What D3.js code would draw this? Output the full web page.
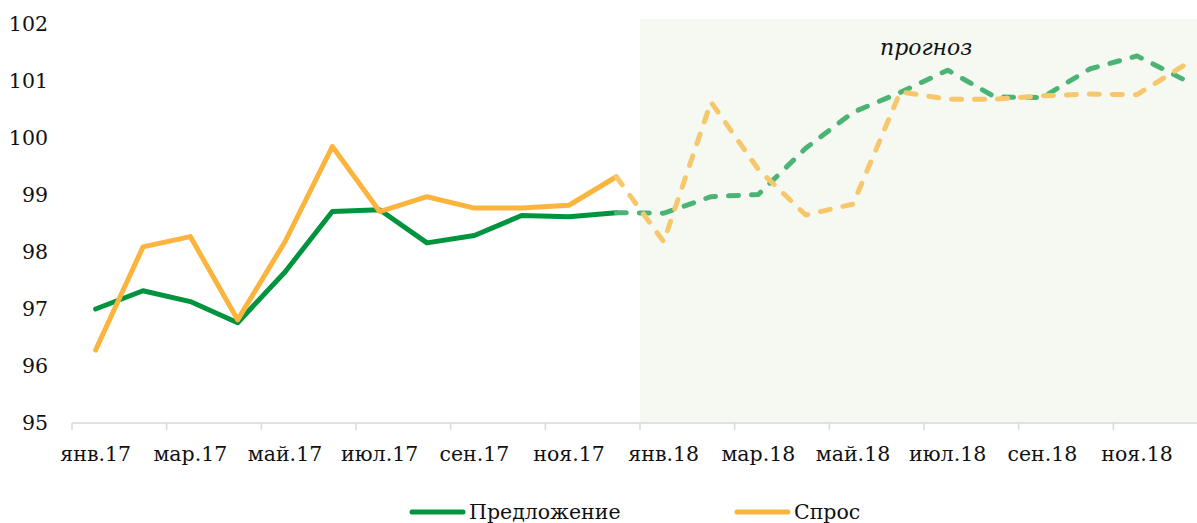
<!DOCTYPE html>
<html><head><meta charset="utf-8">
<script src="https://cdn.jsdelivr.net/npm/d3@7"></script>
<style>body{margin:0;background:#fff}svg{display:block}</style>
</head><body>
<svg id="c" width="1197" height="523"></svg>
<script>
const months = ["янв.17","фев.17","мар.17","апр.17","май.17","июн.17","июл.17","авг.17","сен.17","окт.17","ноя.17","дек.17",
                "янв.18","фев.18","мар.18","апр.18","май.18","июн.18","июл.18","авг.18","сен.18","окт.18","ноя.18","дек.18"];
const yTicks = [95,96,97,98,99,100,101,102];
// actual (Jan 17 – Dec 17)
const supplyActual = [97.00,97.32,97.13,96.76,97.65,98.71,98.74,98.16,98.29,98.64,98.62,98.69];
const demandActual = [96.28,98.09,98.27,96.81,98.18,99.85,98.71,98.97,98.77,98.77,98.82,99.32];
// forecast (Dec 17 – Dec 18)
const supplyForecast = [98.69,98.68,98.97,99.01,99.82,100.45,100.80,101.19,100.72,100.71,101.21,101.44,101.02];
const demandForecast = [99.32,98.18,100.63,99.45,98.65,98.84,100.81,100.68,100.68,100.74,100.77,100.76,101.28];
const seriesNames = ["Предложение","Спрос"];
const forecastLabel = "прогноз";

const svg = d3.select("#c");
const font = "'DejaVu Serif', serif";
const fs = 20.5;
const x = d3.scaleBand().domain(months).range([72, 1208]).padding(0);
const y = d3.scaleLinear().domain([95,102]).range([423,24]);
const cx = i => x(months[i]) + x.bandwidth()/2;

// forecast background
svg.append("rect").attr("x", x(months[12])).attr("y", 19)
  .attr("width", 1208 - x(months[12])).attr("height", y(95) - 19)
  .attr("fill", "#f5f9f1");

// y labels
svg.append("g").selectAll("text").data(yTicks).join("text")
  .attr("x", 48).attr("y", d => y(d)).attr("dy", "0.36em")
  .attr("text-anchor", "end").attr("font-family", font).attr("font-size", fs)
  .attr("fill", "#111").text(d => d);

// x axis
const xAxis = d3.axisBottom(x)
  .tickValues(months.filter((d,i) => i % 2 === 0))
  .tickSize(0).tickPadding(0);
const gx = svg.append("g").attr("transform", `translate(0,${y(95)})`).call(xAxis);
gx.select(".domain").remove();
gx.selectAll("text").attr("font-family", font).attr("font-size", fs).attr("fill", "#111")
  .attr("y", 38).attr("dy", 0);
// axis line and boundary ticks
svg.append("line").attr("x1", 72).attr("x2", 1208).attr("y1", y(95)).attr("y2", y(95))
  .attr("stroke", "#d9d9d9").attr("stroke-width", 1.5);
svg.append("g").selectAll("line").data(months.filter((d,i) => i % 2 === 0)).join("line")
  .attr("x1", d => x(d)).attr("x2", d => x(d))
  .attr("y1", y(95)).attr("y2", y(95) + 7)
  .attr("stroke", "#d9d9d9").attr("stroke-width", 1.5);

const line = d3.line().x(d => cx(d.i)).y(d => y(d.v));
const toPts = (arr, off) => arr.map((v,k) => ({i: k + off, v}));

function draw(arr, off, color, dashed) {
  svg.append("path").datum(toPts(arr, off)).attr("d", line)
    .attr("fill", "none").attr("stroke", color).attr("stroke-width", 5)
    .attr("stroke-linecap", "round").attr("stroke-linejoin", "round")
    .attr("stroke-dasharray", dashed ? "10,13" : null);
}
draw(supplyActual, 0, "#00943f", false);
draw(demandActual, 0, "#fbb53f", false);
draw(supplyForecast, 11, "#4bb475", true);
draw(demandForecast, 11, "#f6c76c", true);

// forecast label
svg.append("text").attr("x", 880).attr("y", 55).attr("font-family", font)
  .attr("font-style", "italic").attr("font-size", 22).attr("fill", "#111").text(forecastLabel);

// legend
const legend = [{name: seriesNames[0], color: "#00943f", x: 410}, {name: seriesNames[1], color: "#fbb53f", x: 735}];
const lg = svg.append("g").selectAll("g").data(legend).join("g");
lg.append("line").attr("x1", d => d.x + 2).attr("x2", d => d.x + 53).attr("y1", 512).attr("y2", 512)
  .attr("stroke", d => d.color).attr("stroke-width", 5).attr("stroke-linecap", "round");
lg.append("text").attr("x", d => d.x + 59).attr("y", 519).attr("font-family", font)
  .attr("font-size", fs).attr("fill", "#111").text(d => d.name);
</script>
</body></html>
